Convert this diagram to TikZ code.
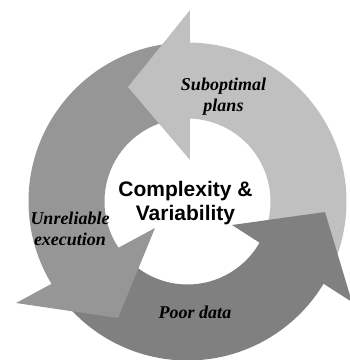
\documentclass[tikz,border=0pt]{standalone}
\usepackage{fontspec}
\setmainfont{Liberation Serif}
\setsansfont{Liberation Sans}
\definecolor{lightg}{RGB}{192,192,192}
\definecolor{midg}{RGB}{150,150,150}
\definecolor{darkg}{RGB}{128,128,128}
\tikzset{
  lbl/.style={font=\fontsize{18}{21}\selectfont\bfseries\itshape, align=center, inner sep=0pt},
  ctr/.style={font=\fontsize{21}{24}\selectfont\sffamily\bfseries, align=center, inner sep=0pt},
}
\begin{document}
\begin{tikzpicture}[x=1pt,y=1pt]
\useasboundingbox (0,0) rectangle (350,-360);
\coordinate (C) at (187.5,-201.5);
\def\Ro{159}
\def\Ri{83}
% shafts
\fill[lightg] ([shift={(336:\Ro)}]C) arc[start angle=336,end angle=451,radius=\Ro]
  -- ([shift={(451:\Ri)}]C) arc[start angle=451,end angle=336,radius=\Ri] -- cycle;
\fill[midg] ([shift={(95:\Ro)}]C) arc[start angle=95,end angle=215,radius=\Ro]
  -- ([shift={(215:\Ri)}]C) arc[start angle=215,end angle=95,radius=\Ri] -- cycle;
\fill[darkg] ([shift={(217:\Ro)}]C) arc[start angle=217,end angle=331,radius=\Ro]
  -- ([shift={(331:\Ri)}]C) arc[start angle=331,end angle=217,radius=\Ri] -- cycle;
% heads
\coordinate (lo) at (190,-10);
\coordinate (lt) at (128,-87);
\coordinate (li) at (190,-160);
\coordinate (mi) at (155,-228);
\coordinate (mt) at (118,-318);
\coordinate (mo) at (16,-303);
\coordinate (di) at (232,-225);
\coordinate (dt) at (325,-212);
\coordinate (do) at (352,-302);
\fill[lightg] (lo) -- (lt) -- (li) -- cycle;
\fill[midg] (mi) -- (mt) -- (mo) -- cycle;
\fill[darkg] (di) -- (dt) -- (do) -- cycle;
% labels
\node[lbl] (sub) at (223.5,-97) {Suboptimal\\plans};
\node[lbl] (unr) at (70,-229) {Unreliable\\execution};
\node[lbl, anchor=base] (poor) at (195,-318) {Poor data};
\node[ctr] (cv) at (185.5,-203.3) {Complexity \&\\Variability};
\end{tikzpicture}
\end{document}
